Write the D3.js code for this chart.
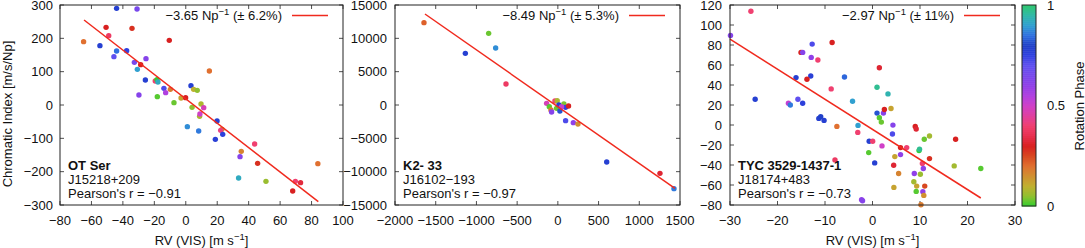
<!DOCTYPE html>
<html>
<head>
<meta charset="utf-8">
<script src="https://cdn.jsdelivr.net/npm/d3@7"></script>
<style>
  body { margin: 0; background: #fff; }
  svg { display: block; font-family: "Liberation Sans", Arial, sans-serif; }
</style>
</head>
<body>
<svg id="chart" width="1085" height="248"></svg>
<script>
// [RV, chromatic index, rotation phase]
const otSerPoints = [
  [-44,290,0.78],[-31,288,0.65],[-65,190,0.2],[-50.7,233,0.3],[-49,208,0.38],[-34.2,230,0.28],
  [-10.5,194,0.3],[-54.6,178,0.78],[-44,162,0.85],[-37.6,163,0.75],[-45.7,145,0.7],[-32.7,128,0.65],
  [-25.3,139,0.62],[-28.7,121,0.3],[-30.8,107,0.9],[15,102,0.2],[-25.7,75,0.78],[-19.4,72,0.4],
  [-18.3,76,0.0],[-17.7,69,0.92],[-13.9,50,0.72],[-12.8,37,0.55],[-29.8,30,0.62],[-18.1,25,0.02],
  [-9.8,47,0.18],[-7.5,7,0.03],[-3,21,0.12],[-0.1,22,0.3],[3.3,58,0.78],[5,47,0.1],[7.3,44,0.05],
  [4,-7,0.05],[9.7,3,0.08],[11.4,-8,0.48],[8.8,-34,0.08],[9,-27,0.5],[1,-65,0.88],[8.2,-78,0.86],
  [19.9,-48,0.78],[18.8,-103,0.77],[23,-73,0.13],[22.2,-76,0.42],[23.5,-88,0.76],[35.3,-139,0.17],
  [34.5,-155,0.62],[43.8,-117,0.4],[45.7,-175,0.28],[33.6,-219,0.92],[51,-229,0.06],[68,-258,0.3],
  [69.7,-229,0.4],[73,-233,0.33],[84,-176,0.2]
];
const k233Points = [
  [-1644,12350,0.22],[-850,10750,0.03],[-1136,7750,0.78],[-764,8550,0.88],[-637,3150,0.38],
  [-138,250,0.48],[-105,-250,0.02],[-85,-750,0.18],[-77,-1050,0.62],[-36,600,0.4],[-8,650,0.08],
  [-16,-500,0.03],[13,0,0.78],[25,-900,0.82],[74,150,0.04],[95,-350,0.75],[131,-150,0.3],
  [45,-250,0.52],[95,-2350,0.72],[190,-2650,0.6],[247,-2850,0.15],[600,-8550,0.78],
  [1254,-10250,0.32],[1426,-12550,0.86]
];
const tycPoints = [
  [-25.6,113.7,0.4],[-29.9,89.5,0.62],[-24.7,25.8,0.78],[-17.7,21.8,0.52],[-17.3,20,0.86],
  [-15.7,25.8,0.7],[-14.7,21.8,0.76],[-16.1,47.4,0.78],[-15.05,72.6,0.3],[-14.7,72.6,0.62],
  [-12.7,80.9,0.72],[-12.9,67.6,0.6],[-11.5,65,0.4],[-13,49,0.77],[-13.8,45.7,0.3],
  [-11.3,6.6,0.78],[-10.9,8.2,0.8],[-10.2,4.6,0.78],[-8.5,82.5,0.3],[-8.7,36.1,0.4],
  [-5.9,48,0.84],[-4.2,23.8,0.9],[-7.5,-1.4,0.2],[-3.05,-0.4,0.9],[-3.1,-7.4,0.4],[-7.9,-34.9,0.38],
  [-0.7,-16.3,0.78],[0.04,-16.3,0.4],[-0.8,-27.6,0.02],[0.46,-37.9,0.78],[0.95,37.7,0.97],
  [1.44,57.3,0.32],[3.26,31.1,0.94],[0.95,11.9,0.82],[1.44,7.2,0.02],[1.86,2.9,0.03],
  [2.3,11.9,0.62],[2.5,15.5,0.3],[3.9,16.5,0.12],[2.0,-20.9,0.5],[4.3,-0.1,0.62],[4.2,-9,0.72],
  [4.7,-31.6,0.12],[4.46,-40.2,0.32],[4.5,-62.4,0.12],[5.5,-48.5,0.17],[5.9,-22.6,0.3],
  [5.9,-29.6,0.6],[7.2,-22.6,0.4],[-2.3,-74.7,0.6],[-2.1,-75.7,0.62],[9.0,-1.4,0.3],[9.2,-4.0,0.32],
  [8.8,-48.5,0.6],[8.7,-56.8,0.07],[9.2,-66.4,0.02],[9.3,-61.1,0.12],[9.8,-25.6,0.0],[9.9,-24.3,0.97],
  [10.07,-49.2,0.06],[10.2,-79.7,0.18],[10.5,-38.5,0.4],[10.7,-43.5,0.6],[10.6,-66.7,0.6],
  [10.8,-70.4,0.15],[10.9,-14.3,0.03],[11.0,-61.1,0.25],[12.0,-11,0.07],[12.0,-33.6,0.28],
  [17.5,-14.3,0.3],[17.2,-40.9,0.07],[22.8,-43.5,0.02]
];

// fitted lines, end points
const otSerFit = [[-64.7,255],[84.3,-290]];
const k233Fit = [[-1632,13650],[1438,-12500]];
const tycFit = [[-30,85.8],[22.8,-73]];

const otSerXTicks = d3.range(-80, 101, 20);
const otSerYTicks = d3.range(-300, 301, 100);
const k233XTicks = d3.range(-2000, 1501, 500);
const k233YTicks = d3.range(-15000, 15001, 5000);
const tycXTicks = d3.range(-30, 31, 10);
const tycYTicks = d3.range(-80, 121, 20);

const starNames = ['OT Ser', 'K2- 33', 'TYC 3529-1437-1'];
const starIds = ['J15218+209', 'J16102\u2212193', 'J18174+483'];
const pearsonR = ['\u22120.91', '\u22120.97', '\u22120.73'];
const slopes = ['\u22123.65', '\u22128.49', '\u22122.97'];
const slopeErrs = ['6.2%', '5.3%', '11%'];

// rotation phase colour map
const phaseStops = [0,0.05,0.1,0.15,0.2,0.25,0.3,0.35,0.4,0.45,0.5,0.55,0.6,0.7,0.75,0.8,0.85,0.9,0.95,1];
const phaseColors = ['#30d030','#90c030','#c0b030','#d09030','#e07030','#d84820','#d82020','#e83050',
  '#f04070','#e040a0','#d040c8','#b040e0','#9040e8','#6050f0','#3040e0','#2040c8','#3070e0',
  '#30a0d0','#30b8a8','#30c870'];
const phaseColor = d3.scaleLinear().domain(phaseStops).range(phaseColors).interpolate(d3.interpolateRgb);

const svg = d3.select('#chart');
const plotTop = 5, plotBottom = 205;

const panels = [
  {left: 60, right: 343, xDom: [-80, 100], yDom: [-300, 300], xTicks: otSerXTicks, yTicks: otSerYTicks,
   pts: otSerPoints, fit: otSerFit, gap: 7, xLabel: true, yLabel: true},
  {left: 395, right: 680, xDom: [-2000, 1500], yDom: [-15000, 15000], xTicks: k233XTicks, yTicks: k233YTicks,
   pts: k233Points, fit: k233Fit, gap: 8, xLabel: false},
  {left: 730, right: 1015, xDom: [-30, 30], yDom: [-80, 120], xTicks: tycXTicks, yTicks: tycYTicks,
   pts: tycPoints, fit: tycFit, gap: 8, xLabel: true}
];

panels.forEach((p, i) => {
  const x = d3.scaleLinear().domain(p.xDom).range([p.left, p.right]);
  const y = d3.scaleLinear().domain(p.yDom).range([plotBottom, plotTop]);
  const g = svg.append('g');
  const tl = 4;

  // ticks (gnuplot style, inward and mirrored)
  p.xTicks.forEach(t => {
    g.append('line').attr('x1', x(t)).attr('x2', x(t)).attr('y1', plotBottom).attr('y2', plotBottom - tl)
      .attr('stroke', '#222').attr('stroke-width', 0.8);
    g.append('line').attr('x1', x(t)).attr('x2', x(t)).attr('y1', plotTop).attr('y2', plotTop + tl)
      .attr('stroke', '#222').attr('stroke-width', 0.8);
    g.append('text').attr('x', x(t)).attr('y', 225).attr('text-anchor', 'middle')
      .attr('font-size', 13).attr('fill', '#111').text(d3.format('')(t));
  });
  p.yTicks.forEach(t => {
    g.append('line').attr('x1', p.left).attr('x2', p.left + tl).attr('y1', y(t)).attr('y2', y(t))
      .attr('stroke', '#222').attr('stroke-width', 0.8);
    g.append('line').attr('x1', p.right).attr('x2', p.right - tl).attr('y1', y(t)).attr('y2', y(t))
      .attr('stroke', '#222').attr('stroke-width', 0.8);
    g.append('text').attr('x', p.left - p.gap).attr('y', y(t)).attr('dy', '0.36em')
      .attr('text-anchor', 'end').attr('font-size', 13).attr('fill', '#111').text(d3.format('')(t));
  });

  g.append('g').selectAll('circle').data(p.pts).enter().append('circle')
    .attr('cx', d => x(d[0])).attr('cy', d => y(d[1])).attr('r', 2.7)
    .attr('fill', d => phaseColor(d[2]));

  g.append('line')
    .attr('x1', x(p.fit[0][0])).attr('y1', y(p.fit[0][1]))
    .attr('x2', x(p.fit[1][0])).attr('y2', y(p.fit[1][1]))
    .attr('stroke', '#f02a1e').attr('stroke-width', 1.5);

  g.append('rect').attr('x', p.left).attr('y', plotTop).attr('width', p.right - p.left)
    .attr('height', plotBottom - plotTop).attr('fill', 'none').attr('stroke', '#222').attr('stroke-width', 1);

  // legend
  const lg = g.append('text').attr('x', p.right - 61).attr('y', 20).attr('text-anchor', 'end')
    .attr('font-size', 13).attr('fill', '#111');
  lg.append('tspan').text(slopes[i] + ' Np');
  lg.append('tspan').attr('dy', -5).attr('font-size', 9.5).text('\u22121');
  lg.append('tspan').attr('dy', 5).text(' (\u00b1 ' + slopeErrs[i] + ')');
  g.append('line').attr('x1', p.right - 51).attr('x2', p.right - 15).attr('y1', 15.5).attr('y2', 15.5)
    .attr('stroke', '#f02a1e').attr('stroke-width', 1.5);

  // star annotation
  g.append('text').attr('x', p.left + 8).attr('y', 170).attr('font-size', 13).attr('font-weight', 'bold')
    .attr('fill', '#111').text(starNames[i]);
  g.append('text').attr('x', p.left + 8).attr('y', 184).attr('font-size', 13).attr('fill', '#111')
    .text(starIds[i]);
  g.append('text').attr('x', p.left + 8).attr('y', 197.5).attr('font-size', 13).attr('fill', '#111')
    .text("Pearson's r = " + pearsonR[i]);

  if (p.xLabel) {
    const xl = g.append('text').attr('x', (p.left + p.right) / 2).attr('y', 245)
      .attr('text-anchor', 'middle').attr('font-size', 13).attr('fill', '#111');
    xl.append('tspan').text('RV (VIS) [m s');
    xl.append('tspan').attr('dy', -5).attr('font-size', 9.5).text('\u22121');
    xl.append('tspan').attr('dy', 5).text(']');
  }
  if (p.yLabel) {
    g.append('text').attr('transform', 'translate(12,114) rotate(-90)').attr('text-anchor', 'middle')
      .attr('font-size', 13).attr('fill', '#111').text('Chromatic Index [m/s/Np]');
  }
});

// colour bar
const cbX = 1022, cbW = 14;
const cbY = d3.scaleLinear().domain([0, 1]).range([206, 5]);
const cbSteps = d3.range(0, 100).map(k => k / 100);
svg.append('g').selectAll('rect').data(cbSteps).enter().append('rect')
  .attr('x', cbX).attr('width', cbW)
  .attr('y', d => cbY(d + 0.01)).attr('height', cbY(0) - cbY(0.01) + 0.5)
  .attr('fill', d => phaseColor(d + 0.005));
svg.append('rect').attr('x', cbX).attr('y', 5).attr('width', cbW).attr('height', 201)
  .attr('fill', 'none').attr('stroke', '#222').attr('stroke-width', 1);
[0, 0.5, 1].forEach(t => {
  svg.append('text').attr('x', 1047).attr('y', cbY(t)).attr('dy', '0.36em').attr('font-size', 13)
    .attr('fill', '#111').text(t);
});
svg.append('text').attr('transform', 'translate(1084,106) rotate(-90)').attr('text-anchor', 'middle')
  .attr('font-size', 13).attr('fill', '#111').text('Rotation Phase');
</script>
</body>
</html>
